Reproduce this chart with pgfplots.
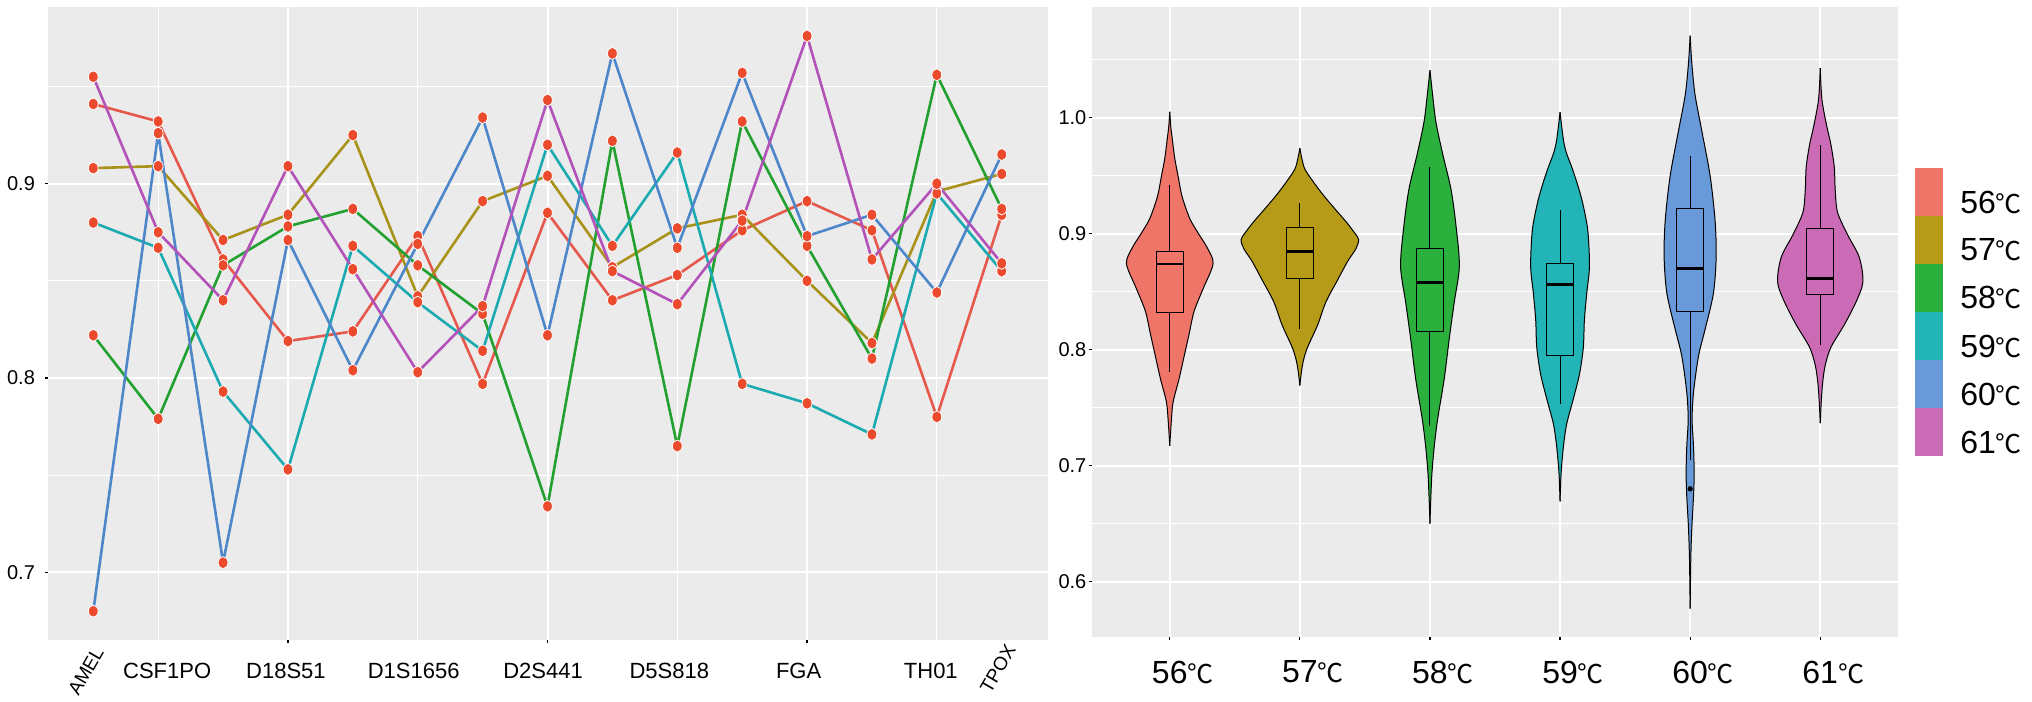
\documentclass[border=0pt]{standalone}
\usepackage{pgfplots}
\pgfplotsset{compat=1.18}
\usepackage{pgfplotstable}
\usepgfplotslibrary{statistics}
\usepackage{fontspec}
\setmainfont{Liberation Sans}
\newfontfamily\cjk{Noto Sans CJK SC}
\newcommand{\cjkC}{{\cjk\fontsize{13bp}{13bp}\selectfont ℃}}
\newcommand{\sh}[2]{\hspace*{#1}#2\hspace*{-#1}}

\definecolor{bg}{HTML}{EBEBEB}
\definecolor{l56}{HTML}{E5584B}
\definecolor{l57}{HTML}{A8921A}
\definecolor{l58}{HTML}{22A030}
\definecolor{l59}{HTML}{1BAAB0}
\definecolor{l60}{HTML}{4E86CA}
\definecolor{l61}{HTML}{B352B8}
\definecolor{mk}{HTML}{EC4A2C}
\definecolor{v56}{HTML}{F07569}
\definecolor{v57}{HTML}{B59B18}
\definecolor{v58}{HTML}{2BB03E}
\definecolor{v59}{HTML}{22B4B6}
\definecolor{v60}{HTML}{6899D8}
\definecolor{v61}{HTML}{CC6BB5}

\pgfplotsset{legkey/.style={legend image code/.code={\fill[#1] (0bp,-6bp) rectangle (13.3bp,17.5bp);}}}

\pgfplotstableread{
x a b c d e f
1 0.941 0.908 0.822 0.880 0.680 0.955
2 0.932 0.909 0.779 0.867 0.926 0.875
3 0.861 0.871 0.858 0.793 0.705 0.840
4 0.819 0.884 0.878 0.753 0.871 0.909
5 0.824 0.925 0.887 0.868 0.804 0.856
6 0.873 0.842 0.858 0.839 0.869 0.803
7 0.797 0.891 0.833 0.814 0.934 0.837
8 0.885 0.904 0.734 0.920 0.822 0.943
9 0.840 0.857 0.922 0.868 0.967 0.855
10 0.853 0.877 0.765 0.916 0.867 0.838
11 0.876 0.884 0.932 0.797 0.957 0.881
12 0.891 0.850 0.868 0.787 0.873 0.976
13 0.876 0.818 0.810 0.771 0.884 0.861
14 0.780 0.896 0.956 0.895 0.844 0.900
15 0.884 0.905 0.887 0.855 0.915 0.859
}\tabL

\pgfplotstableread{
y w
0.717 0
0.740 0.013
0.755 0.026
0.775 0.072
0.794 0.110
0.8136 0.149
0.833 0.187
0.8524 0.256
0.874 0.333
0.8874 0.290
0.899 0.226
0.911 0.162
0.922 0.123
0.934 0.090
0.9495 0.064
0.965 0.038
0.981 0.020
0.992 0.008
1.005 0
}\vA

\pgfplotstableread{
y w
0.769 0
0.779 0.010
0.790 0.026
0.802 0.059
0.821 0.136
0.841 0.200
0.860 0.290
0.876 0.367
0.887 0.431
0.895 0.451
0.903 0.405
0.911 0.349
0.922 0.264
0.934 0.174
0.9456 0.097
0.957 0.033
0.9736 0
}\vB

\pgfplotstableread{
y w
0.650 0
0.670 0.006
0.693 0.015
0.7165 0.033
0.740 0.059
0.775 0.110
0.810 0.149
0.841 0.187
0.872 0.226
0.907 0.200
0.938 0.162
0.969 0.097
0.996 0.046
1.019 0.021
1.0408 0
}\vC

\pgfplotstableread{
y w
0.6691 0
0.6932 0.008
0.7165 0.026
0.7359 0.051
0.7553 0.097
0.7786 0.149
0.8019 0.179
0.8252 0.187
0.8485 0.205
0.8718 0.226
0.9029 0.213
0.9262 0.174
0.9417 0.136
0.9573 0.090
0.9689 0.051
0.9806 0.026
1.0047 0
}\vD

\pgfplotstableread{
y w
0.5767 0
0.6194 0.005
0.6466 0.013
0.6738 0.026
0.6932 0.031
0.7165 0.026
0.7398 0.015
0.7631 0.026
0.7942 0.064
0.8175 0.115
0.8485 0.179
0.8796 0.200
0.9107 0.192
0.9495 0.154
0.9883 0.090
1.0194 0.038
1.0466 0.013
1.0707 0
}\vE

\pgfplotstableread{
y w
0.7367 0
0.7553 0.008
0.7709 0.018
0.7864 0.038
0.802 0.082
0.8214 0.185
0.8408 0.274
0.8583 0.328
0.8796 0.300
0.899 0.210
0.9184 0.133
0.9379 0.115
0.9573 0.108
0.9767 0.082
0.9922 0.051
1.0155 0.013
1.0427 0
}\vF

\begin{document}
\begin{tikzpicture}
\path[use as bounding box, fill=white] (0,0) rectangle (1016bp,351bp);

% ---------------- left panel ----------------
\begin{axis}[
  at={(24.15bp,31bp)}, anchor=south west, scale only axis,
  width=500bp, height=316.4bp,
  xmin=0.3066, xmax=15.718, ymin=0.6652, ymax=0.9908,
  axis background/.style={fill=bg},
  axis line style={draw=none},
  xtick pos=bottom, ytick pos=left,
  tick align=outside, major tick length=1.5bp, minor tick length=0pt,
  tick style={black, line width=0.6bp},
  xtick={4,8,12}, xticklabels={\sh{-1bp}{D18S51},\sh{-2.2bp}{D2S441},\sh{-4.2bp}{FGA}},
  extra x ticks={2,6,10,14},
  extra x tick labels={\sh{4.5bp}{CSF1PO},\sh{-2bp}{D1S1656},\sh{-4bp}{D5S818},\sh{-3bp}{TH01}},
  extra x tick style={tick style={draw=none}, grid=major, major grid style={white, line width=0.45bp}},
  ytick={0.7,0.8,0.9}, yticklabels={0.7,0.8,0.9},
  minor ytick={0.75,0.85,0.95},
  grid=both,
  major grid style={white, line width=1bp},
  minor grid style={white, line width=0.5bp},
  xticklabel style={font=\fontsize{11bp}{13bp}\selectfont, inner sep=0pt, yshift=-10bp},
  yticklabel style={font=\fontsize{10bp}{12bp}\selectfont, inner sep=0pt, xshift=-5bp},
  clip mode=individual,
]
\addplot[l56, line width=1.3bp] table[x=x,y=a]{\tabL};
\addplot[l57, line width=1.3bp] table[x=x,y=b]{\tabL};
\addplot[l58, line width=1.3bp] table[x=x,y=c]{\tabL};
\addplot[l59, line width=1.3bp] table[x=x,y=d]{\tabL};
\addplot[l60, line width=1.3bp] table[x=x,y=e]{\tabL};
\addplot[l61, line width=1.3bp] table[x=x,y=f]{\tabL};
\pgfplotsinvokeforeach{a,b,c,d,e,f}{
\addplot[only marks, mark=*, mark size=2.45bp, mark options={fill=mk, draw=white, line width=0.4bp, yscale=1.22}] table[x=x,y=#1]{\tabL};
}
\node[rotate=60, anchor=east, inner sep=0pt, font=\fontsize{9.5bp}{11bp}\selectfont] at (axis cs:1.088,0.6608) {AMEL};
\node[rotate=60, anchor=east, inner sep=0pt, font=\fontsize{9.5bp}{11bp}\selectfont] at (axis cs:15.143,0.6619) {TPOX};
\end{axis}

% ---------------- right panel ----------------
\begin{axis}[
  at={(545.85bp,32.35bp)}, anchor=south west, scale only axis,
  width=403.3bp, height=315.2bp,
  xmin=0.4, xmax=6.6, ymin=0.552, ymax=1.0954,
  axis background/.style={fill=bg},
  axis line style={draw=none},
  xtick pos=bottom, ytick pos=left,
  tick align=outside, major tick length=1.5bp, minor tick length=0pt,
  tick style={black, line width=0.6bp},
  xtick={1,2,3,4,5,6},
  xticklabels={56\rlap{\cjkC},57\rlap{\cjkC},58\rlap{\cjkC},59\rlap{\cjkC},60\rlap{\cjkC},61\rlap{\cjkC}},
  ytick={0.6,0.7,0.8,0.9,1.0}, yticklabels={0.6,0.7,0.8,0.9,1.0},
  minor ytick={0.65,0.75,0.85,0.95,1.05},
  grid=both,
  major grid style={white, line width=1bp},
  minor grid style={white, line width=0.5bp},
  xticklabel style={font=\fontsize{16bp}{18bp}\selectfont, inner sep=0pt, yshift=-10bp},
  yticklabel style={font=\fontsize{10bp}{12bp}\selectfont, inner sep=0pt, xshift=-1bp},
  legend style={at={(1.0207,0.7445)}, anchor=north west, draw=none, fill=none,
    inner sep=0pt, outer sep=0pt, row sep=0pt, column sep=9bp,
    font=\fontsize{16bp}{18bp}\selectfont, nodes={inner sep=0pt}},
  legend cell align=left,
]
\addlegendimage{legkey=v56}\addlegendentry{56\cjkC}
\addlegendimage{legkey=v57}\addlegendentry{57\cjkC}
\addlegendimage{legkey=v58}\addlegendentry{58\cjkC}
\addlegendimage{legkey=v59}\addlegendentry{59\cjkC}
\addlegendimage{legkey=v60}\addlegendentry{60\cjkC}
\addlegendimage{legkey=v61}\addlegendentry{61\cjkC}

% violin fills (each half closed along the centre line)
\addplot[fill=v56, draw=none, smooth] table[x expr=1+\thisrow{w}, y=y]{\vA};
\addplot[fill=v56, draw=none, smooth] table[x expr=1-\thisrow{w}, y=y]{\vA};
\addplot[fill=v57, draw=none, smooth] table[x expr=2+\thisrow{w}, y=y]{\vB};
\addplot[fill=v57, draw=none, smooth] table[x expr=2-\thisrow{w}, y=y]{\vB};
\addplot[fill=v58, draw=none, smooth] table[x expr=3+\thisrow{w}, y=y]{\vC};
\addplot[fill=v58, draw=none, smooth] table[x expr=3-\thisrow{w}, y=y]{\vC};
\addplot[fill=v59, draw=none, smooth] table[x expr=4+\thisrow{w}, y=y]{\vD};
\addplot[fill=v59, draw=none, smooth] table[x expr=4-\thisrow{w}, y=y]{\vD};
\addplot[fill=v60, draw=none, smooth] table[x expr=5+\thisrow{w}, y=y]{\vE};
\addplot[fill=v60, draw=none, smooth] table[x expr=5-\thisrow{w}, y=y]{\vE};
\addplot[fill=v61, draw=none, smooth] table[x expr=6+\thisrow{w}, y=y]{\vF};
\addplot[fill=v61, draw=none, smooth] table[x expr=6-\thisrow{w}, y=y]{\vF};
% violin outlines
\addplot[black, line width=0.5bp, smooth] table[x expr=1+\thisrow{w}, y=y]{\vA};
\addplot[black, line width=0.5bp, smooth] table[x expr=1-\thisrow{w}, y=y]{\vA};
\addplot[black, line width=0.5bp, smooth] table[x expr=2+\thisrow{w}, y=y]{\vB};
\addplot[black, line width=0.5bp, smooth] table[x expr=2-\thisrow{w}, y=y]{\vB};
\addplot[black, line width=0.5bp, smooth] table[x expr=3+\thisrow{w}, y=y]{\vC};
\addplot[black, line width=0.5bp, smooth] table[x expr=3-\thisrow{w}, y=y]{\vC};
\addplot[black, line width=0.5bp, smooth] table[x expr=4+\thisrow{w}, y=y]{\vD};
\addplot[black, line width=0.5bp, smooth] table[x expr=4-\thisrow{w}, y=y]{\vD};
\addplot[black, line width=0.5bp, smooth] table[x expr=5+\thisrow{w}, y=y]{\vE};
\addplot[black, line width=0.5bp, smooth] table[x expr=5-\thisrow{w}, y=y]{\vE};
\addplot[black, line width=0.5bp, smooth] table[x expr=6+\thisrow{w}, y=y]{\vF};
\addplot[black, line width=0.5bp, smooth] table[x expr=6-\thisrow{w}, y=y]{\vF};

% boxplots
\addplot[draw=black, line width=0.5bp, fill=v56, boxplot prepared={draw position=1, lower whisker=0.7806, lower quartile=0.8318, median=0.8738, upper quartile=0.8847, upper whisker=0.9417, box extend=0.205, whisker extend=0, draw direction=y, every median/.style={line width=1.3bp}}] coordinates {};
\addplot[draw=black, line width=0.5bp, fill=v57, boxplot prepared={draw position=2, lower whisker=0.8175, lower quartile=0.8614, median=0.8847, upper quartile=0.9049, upper whisker=0.926, box extend=0.205, whisker extend=0, draw direction=y, every median/.style={line width=1.3bp}}] coordinates {};
\addplot[draw=black, line width=0.5bp, fill=v58, boxplot prepared={draw position=3, lower whisker=0.734, lower quartile=0.8155, median=0.858, upper quartile=0.8874, upper whisker=0.957, box extend=0.205, whisker extend=0, draw direction=y, every median/.style={line width=1.3bp}}] coordinates {};
\addplot[draw=black, line width=0.5bp, fill=v59, boxplot prepared={draw position=4, lower whisker=0.7534, lower quartile=0.7953, median=0.8563, upper quartile=0.8746, upper whisker=0.920, box extend=0.205, whisker extend=0, draw direction=y, every median/.style={line width=1.3bp}}] coordinates {};
\addplot[draw=black, line width=0.5bp, fill=v60, boxplot prepared={draw position=5, lower whisker=0.705, lower quartile=0.833, median=0.870, upper quartile=0.9216, upper whisker=0.967, box extend=0.205, whisker extend=0, draw direction=y, every median/.style={line width=1.3bp}}] coordinates {};
\addplot[draw=black, line width=0.5bp, fill=v61, boxplot prepared={draw position=6, lower whisker=0.804, lower quartile=0.8478, median=0.8614, upper quartile=0.904, upper whisker=0.9767, box extend=0.205, whisker extend=0, draw direction=y, every median/.style={line width=1.3bp}}] coordinates {};
\addplot[only marks, mark=*, mark size=1.1bp, black] coordinates {(5,0.680)};
\end{axis}
\end{tikzpicture}
\end{document}
